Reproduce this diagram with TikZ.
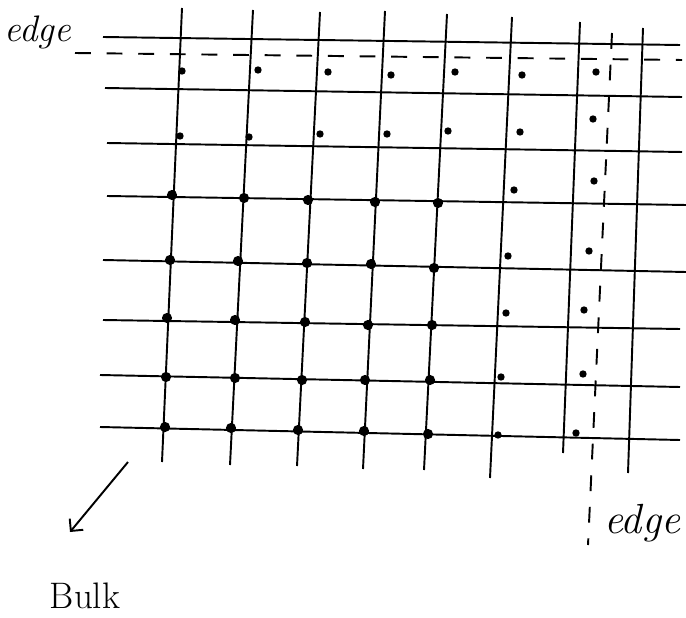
\documentclass[tikz,border=0pt]{standalone}
\usepackage{tikz}
\usetikzlibrary{arrows.meta}
\tikzset{
	gridline/.style={draw=black,line width=1.1pt},
	border/.style={draw=black,line width=1.1pt,dash pattern=on 9pt off 9pt},
	site/.style={circle,fill=black,inner sep=0pt,minimum size=5.8pt},
	edgesite/.style={circle,fill=black,inner sep=0pt,minimum size=4.2pt},
	pointer/.style={draw=black,line width=1.1pt,-{Straight Barb[length=5pt,width=10pt,line width=1.1pt]}},
	lbl/.style={inner sep=0pt,anchor=base},
}

\begin{document}
\begin{tikzpicture}[x=0.02cm,y=-0.02cm]
	\useasboundingbox (0,0) rectangle (686,618);
	% vertical lines
	\foreach \i/\xt/\yt/\xb/\yb in {1/182/8/162/462,2/253/10/230/465,3/320/12/297/466,4/385/11/363/469,
		5/447/14/424/470,6/512/17/490/478,7/580/22/563/453,8/643/28/628/473}{
		\coordinate (vt\i) at (\xt,\yt);
		\coordinate (vb\i) at (\xb,\yb);
		\draw[gridline] (vt\i)--(vb\i);
	}
	% horizontal lines
	\foreach \i/\xl/\yl/\xr/\yr in {1/103/37/680/45,2/105/88/682/97,3/107/143/682/152,4/107/196/686/205,
		5/103/260/686/272,6/103/320/680/329,7/100/375/680/387,8/100/427/680/440}{
		\coordinate (hl\i) at (\xl,\yl);
		\coordinate (hr\i) at (\xr,\yr);
		\draw[gridline] (hl\i)--(hr\i);
	}
	% dashed borders
	\coordinate (topl) at (75,53);
	\coordinate (topr) at (682,60);
	\coordinate (sidet) at (612,33);
	\coordinate (sideb) at (588,545);
	\draw[border] (topl)--(topr);
	\draw[border] (sidet)--(sideb);
	% bulk sites
	\foreach \n/\x/\y in {31/172/195,32/244/198,33/308/200,34/375/202,35/438/203,
		41/170/260,42/238/261,43/307/263,44/371/264,45/434/268,
		51/167/318,52/235/320,53/305/322,54/368/325,55/432/325,
		61/166/377,62/235/378,63/302/380,64/365/380,65/430/380,
		71/165/427,72/231/428,73/298/430,74/364/431,75/428/434}
	\node[site] (s\n) at (\x,\y) {};
	% sites near the edges
	\foreach \n/\x/\y in {11/182/71,12/258/70,13/328/72,14/391/75,15/455/72,16/522/75,17/596/72,
		21/180/136,22/249/137,23/320/134,24/387/134,25/448/131,26/520/132,27/593/119,
		36/514/190,37/594/181,46/508/256,47/589/251,56/506/313,57/584/310,
		66/501/377,67/583/374,76/498/435,77/576/433}
	\node[edgesite] (s\n) at (\x,\y) {};
	% labels
	\node[lbl,font=\fontsize{21}{25}\selectfont\itshape] (edgetop) at (38,42) {edge};
	\node[lbl,font=\fontsize{24}{28}\selectfont\itshape] (edgeside) at (642,533) {edge};
	\node[lbl,font=\fontsize{21}{25}\selectfont] (bulk) at (85,608) {Bulk};
	\coordinate (bulktail) at (128,462);
	\coordinate (bulktip) at (70,532);
	\draw[pointer] (bulktail)--(bulktip);
\end{tikzpicture}
\end{document}
